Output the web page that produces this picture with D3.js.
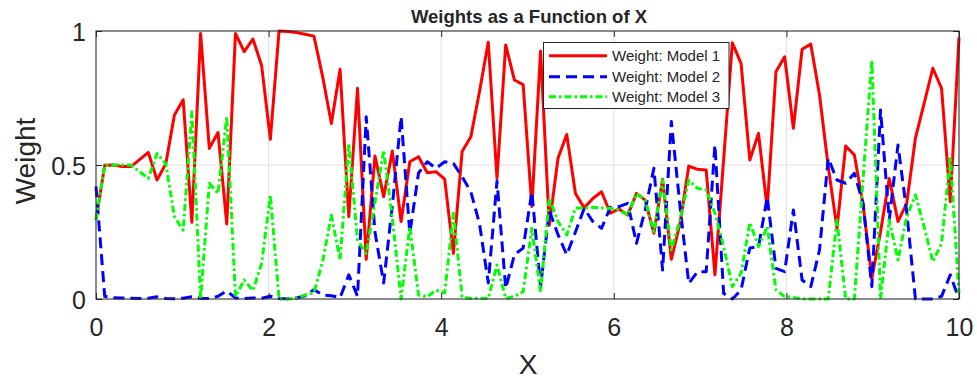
<!DOCTYPE html>
<html>
<head>
<meta charset="utf-8">
<script src="https://cdn.jsdelivr.net/npm/d3@7"></script>
<style>
  body { margin: 0; background: #fff; }
  text { font-family: "Liberation Sans", Arial, sans-serif; fill: #262626; }
</style>
</head>
<body>
<div id="chart"></div>
<script>
// weights sampled on linspace(0, 10, 100)
const model1 = [0.295,0.499,0.50,0.494,0.494,0.52,0.547,0.444,0.504,0.687,
  0.743,0.286,0.991,0.562,0.621,0.28,0.991,0.923,0.970,0.871,
  0.596,1.0,0.998,0.994,0.988,0.981,0.83,0.655,0.857,0.307,
  0.786,0.148,0.534,0.382,0.552,0.289,0.512,0.531,0.471,0.475,
  0.447,0.170,0.550,0.605,0.775,0.958,0.45,0.948,0.817,0.80,
  0.345,0.925,0.275,0.525,0.614,0.394,0.34,0.375,0.40,0.320,
  0.336,0.313,0.394,0.369,0.245,0.447,0.148,0.282,0.496,0.484,
  0.481,0.090,0.52,0.956,0.879,0.519,0.618,0.338,0.848,0.904,
  0.637,0.932,0.951,0.761,0.494,0.264,0.571,0.537,0.351,0.077,
  0.251,0.450,0.289,0.357,0.600,0.730,0.861,0.786,0.363,0.976];

const model2 = [0.42,0.01,0.005,0.004,0.003,0.002,0.003,0.008,0.002,0.001,
  0.003,0.008,0.003,0.002,0.01,0.03,0.004,0.002,0.004,0.003,
  0.01,0.002,0.001,0.004,0.012,0.035,0.015,0.012,0.005,0.09,
  0.01,0.68,0.25,0.06,0.35,0.68,0.245,0.47,0.512,0.488,
  0.512,0.506,0.456,0.40,0.28,0.06,0.44,0.04,0.165,0.19,
  0.40,0.045,0.33,0.24,0.165,0.25,0.338,0.289,0.264,0.342,
  0.345,0.357,0.208,0.332,0.488,0.108,0.662,0.345,0.058,0.102,
  0.102,0.575,0.021,0.0,0.034,0.19,0.195,0.38,0.114,0.102,
  0.332,0.071,0.046,0.183,0.525,0.444,0.432,0.469,0.357,0.046,
  0.705,0.295,0.575,0.326,0.0,0.0,0.0,0.01,0.09,0.0];

const model3 = [0.295,0.499,0.50,0.50,0.50,0.475,0.45,0.543,0.506,0.307,
  0.257,0.699,0.0,0.432,0.394,0.68,0.009,0.071,0.031,0.133,
  0.388,0.0,0.0,0.002,0.015,0.024,0.14,0.313,0.146,0.58,
  0.22,0.17,0.36,0.555,0.30,0.0,0.27,0.015,0.008,0.033,
  0.023,0.32,0.008,0.002,0.002,0.002,0.127,0.002,0.01,0.027,
  0.264,0.027,0.376,0.289,0.239,0.34,0.34,0.342,0.34,0.338,
  0.332,0.313,0.394,0.369,0.251,0.444,0.183,0.295,0.444,0.413,
  0.407,0.32,0.195,0.046,0.096,0.285,0.195,0.27,0.034,0.009,
  0.006,0.0,0.0,0.0,0.0,0.295,0.0,0.0,0.45,0.892,
  0.0,0.295,0.146,0.307,0.388,0.27,0.139,0.208,0.531,0.021];

const seriesNames = ["Weight: Model 1", "Weight: Model 2", "Weight: Model 3"];
const xTicks = [0, 2, 4, 6, 8, 10];
const yTicks = [0, 0.5, 1];

const width = 977, height = 381;
const mLeft = 96, mRight = 959, mTop = 31, mBottom = 299;

const svg = d3.select("#chart").append("svg")
  .attr("width", width).attr("height", height);
svg.append("rect").attr("width", width).attr("height", height).attr("fill", "#fff");

const x = d3.scaleLinear().domain([0, 10]).range([mLeft, mRight]);
const y = d3.scaleLinear().domain([0, 1]).range([mBottom, mTop]);
const xs = d3.range(100).map(i => i * 10 / 99);

// grid
svg.append("g").selectAll("line").data(xTicks).enter().append("line")
  .attr("x1", d => x(d)).attr("x2", d => x(d))
  .attr("y1", mTop).attr("y2", mBottom)
  .attr("stroke", "#e1e1e1").attr("stroke-width", 1);
svg.append("g").selectAll("line").data(yTicks).enter().append("line")
  .attr("x1", mLeft).attr("x2", mRight)
  .attr("y1", d => y(d)).attr("y2", d => y(d))
  .attr("stroke", "#e1e1e1").attr("stroke-width", 1);

// lines
const series = [
  { values: model1, color: "#ff0000", dash: null },
  { values: model2, color: "#0000ff", dash: "11,6" },
  { values: model3, color: "#00ff00", dash: "7,3,2.5,3" }
];
const line = d3.line().x(d => x(d[0])).y(d => y(d[1]));
series.forEach(s => {
  svg.append("path")
    .datum(xs.map((v, i) => [v, s.values[i]]))
    .attr("d", line)
    .attr("fill", "none")
    .attr("stroke", s.color)
    .attr("stroke-width", 3)
    .attr("stroke-linejoin", "round")
    .attr("stroke-dasharray", s.dash);
});

// axes, ticks pointing inward like matlab
const styleAxis = g => {
  g.select(".domain").remove();
  g.selectAll(".tick line").attr("stroke", "#262626");
  g.selectAll(".tick text").style("font-size", "25px")
    .style("font-family", "'Liberation Sans', Arial, sans-serif").attr("fill", "#262626");
};
svg.append("g").attr("transform", `translate(0,${mBottom})`)
  .call(d3.axisBottom(x).tickValues(xTicks).tickSize(-6).tickPadding(0).tickFormat(d3.format("d")))
  .call(styleAxis)
  .call(g => g.selectAll(".tick text").attr("y", 37).attr("dy", 0));
svg.append("g").attr("transform", `translate(0,${mTop})`)
  .call(d3.axisTop(x).tickValues(xTicks).tickSize(-6).tickFormat(""))
  .call(styleAxis);
svg.append("g").attr("transform", `translate(${mLeft},0)`)
  .call(d3.axisLeft(y).tickValues(yTicks).tickSize(-6).tickPadding(0).tickFormat(d => d === 0.5 ? "0.5" : d3.format("d")(d)))
  .call(styleAxis)
  .call(g => g.selectAll(".tick text").attr("x", -10).attr("dy", "0.38em"));
svg.append("g").attr("transform", `translate(${mRight},0)`)
  .call(d3.axisRight(y).tickValues(yTicks).tickSize(-6).tickFormat(""))
  .call(styleAxis);

svg.append("rect")
  .attr("x", mLeft).attr("y", mTop)
  .attr("width", mRight - mLeft).attr("height", mBottom - mTop)
  .attr("fill", "none").attr("stroke", "#262626").attr("stroke-width", 1);

// title and labels
svg.append("text").attr("x", 529).attr("y", 23)
  .attr("text-anchor", "middle").style("font-size", "18.5px").style("font-weight", "bold")
  .attr("fill", "#000").text("Weights as a Function of X");
svg.append("text").attr("x", 528).attr("y", 374)
  .attr("text-anchor", "middle").style("font-size", "28px").text("X");
svg.append("text").attr("transform", "translate(35,161) rotate(-90)")
  .attr("text-anchor", "middle").style("font-size", "28px").text("Weight");

// legend
const legend = svg.append("g");
legend.append("rect").attr("x", 543.5).attr("y", 42.5).attr("width", 185.5).attr("height", 66)
  .attr("fill", "#fff").attr("stroke", "#262626").attr("stroke-width", 1);
const rowY = [55.7, 76.7, 96.7];
series.forEach((s, i) => {
  legend.append("line").attr("x1", 549).attr("x2", 607)
    .attr("y1", rowY[i]).attr("y2", rowY[i])
    .attr("stroke", s.color).attr("stroke-width", 3)
    .attr("stroke-dasharray", s.dash);
  legend.append("text").attr("x", 612).attr("y", rowY[i] + 5.4)
    .style("font-size", "15px").attr("fill", "#000").text(seriesNames[i]);
});
</script>
</body>
</html>
